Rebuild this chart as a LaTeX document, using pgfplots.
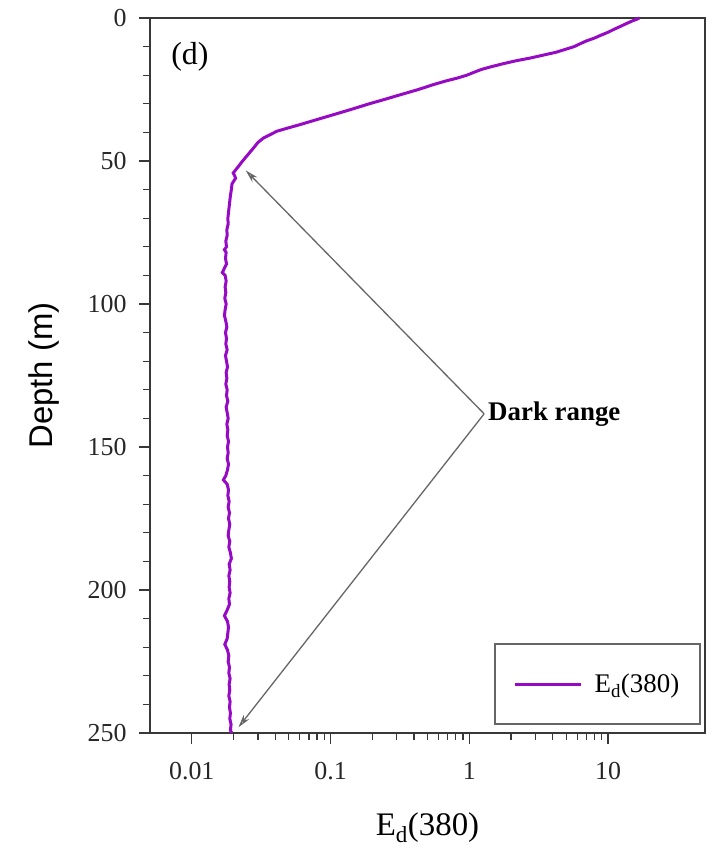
\documentclass[border=0pt]{standalone}
\usepackage{pgfplots}
\pgfplotsset{compat=1.18}
\usepackage{fontspec}
\setmainfont{Liberation Serif}
\newfontfamily\arialfont{Liberation Sans}
\usetikzlibrary{arrows.meta}
\definecolor{curve}{RGB}{150,10,195}
\pgfplotstableread{
depth val
0 16.8
0.5 16.0
1 15.0
2 13.5
3 12.2
4 11.0
5 10.0
6 8.9
7 8.0
8 7.0
9 6.3
10 5.7
11 4.9
12 4.2
13 3.4
14 2.75
15 2.15
16 1.75
17 1.45
18 1.22
19 1.08
20 0.96
21 0.82
22 0.68
23.3 0.55
25 0.43
27 0.31
28.6 0.24
30 0.19
32 0.14
33.8 0.105
35.5 0.080
37.3 0.060
38.5 0.049
39.6 0.041
41 0.036
42 0.0328
43.5 0.030
45.5 0.0278
47 0.0262
49 0.0242
50.5 0.0228
51.9 0.0217
53 0.0208
54.2 0.0199
55 0.0203
56 0.0207
58 0.0195
60 0.0193
62 0.0190
64 0.0188
66 0.0186
68 0.0184
70 0.0182
72 0.0183
74 0.0179
76 0.0180
78 0.0176
80 0.0178
81 0.0172
82 0.0177
84 0.0175
86 0.0178
88 0.0170
89 0.0166
90 0.0174
92 0.0177
94 0.0174
96 0.0176
98 0.0173
100 0.0177
102 0.0174
104 0.0172
106 0.0176
108 0.0179
110 0.0175
112 0.0178
114 0.0176
116 0.0180
118 0.0175
120 0.0178
122 0.0181
124 0.0177
126 0.0179
128 0.0176
130 0.0180
132 0.0178
134 0.0182
136 0.0177
138 0.0180
140 0.0183
142 0.0179
144 0.0182
146 0.0180
148 0.0184
150 0.0181
152 0.0183
154 0.0180
156 0.0184
158 0.0181
160 0.0176
161.5 0.0169
163 0.0180
165 0.0184
167 0.0182
169 0.0186
171 0.0183
173 0.0187
175 0.0184
177 0.0188
179 0.0185
181 0.0183
183 0.0188
185 0.0185
187 0.0190
189 0.0193
191 0.0186
193 0.0189
195 0.0185
197 0.0188
199 0.0186
201 0.0189
203 0.0185
205 0.0187
207 0.0180
209 0.0172
211 0.0181
213 0.0184
215 0.0182
217 0.0180
219 0.0173
221 0.0181
223 0.0185
225 0.0183
227 0.0187
229 0.0185
231 0.0189
233 0.0186
235 0.0188
237 0.0185
239 0.0189
241 0.0187
243 0.0190
245 0.0188
247 0.0192
249 0.0190
250 0.0194
}\edtable
\begin{document}
\begin{tikzpicture}
\path[use as bounding box] (-150bp,-124bp) rectangle (570bp,733bp);
\begin{axis}[
  at={(0,0)}, anchor=south west,
  scale only axis, width=555bp, height=715bp,
  xmode=log, xmin=0.005, xmax=50,
  ymin=0, ymax=250, y dir=reverse,
  xtick={0.01,0.1,1,10}, xticklabels={0.01,0.1,1,10},
  ytick={0,50,...,250}, minor y tick num=4,
  xtick pos=left, xticklabel pos=left,
  ytick pos=left, yticklabel pos=left,
  tick align=outside,
  major tick length=11bp, minor tick length=7bp,
  axis line style={black!78, line width=1.6bp},
  every tick/.style={black!78, line width=1.2bp},
  tick label style={font=\fontsize{26}{30}\selectfont, text=black!85},
  /pgf/number format/assume math mode=true,
  xticklabel style={yshift=-15bp},
  yticklabel style={xshift=-9bp},
  xlabel={E\textsubscript{d}(380)},
  xlabel style={at={(axis description cs:0.5,0)}, anchor=base, yshift=-102bp, font=\fontsize{33}{36}\selectfont},
  ylabel={Depth (m)},
  ylabel style={at={(axis description cs:0,0.5)}, anchor=center, yshift=106bp, font=\arialfont\fontsize{33}{36}\selectfont},
  legend style={at={(0.993,0.011)}, anchor=south east, draw=black!60, line width=1.8bp,
     inner xsep=19bp, inner ysep=28bp, font=\fontsize{27}{30}\selectfont,
     /tikz/every odd column/.append style={column sep=10bp}},
  legend cell align=left,
  legend image code/.code={\draw[#1, line width=3bp] (0bp,0bp) -- (66bp,0bp);},
  clip=false,
]
\addplot[curve, line width=3bp] table[x=val, y=depth] {\edtable};
\addlegendentry{E\textsubscript{d}(380)}
\node[anchor=center, font=\fontsize{32}{36}\selectfont] at (axis cs:0.0097,13.6) {(d)};
\draw[black!60, line width=1.3bp, -{Stealth[length=13bp,width=7bp,open]}] (axis cs:1.28,138.4) -- (axis cs:0.0245,53.3);
\draw[black!60, line width=1.3bp, -{Stealth[length=13bp,width=7bp,open]}] (axis cs:1.28,138.4) -- (axis cs:0.0217,248);
\node[anchor=west, inner sep=2bp, font=\bfseries\fontsize{27}{30}\selectfont] at (axis cs:1.32,138.4) {Dark range};
\end{axis}
\end{tikzpicture}
\end{document}
